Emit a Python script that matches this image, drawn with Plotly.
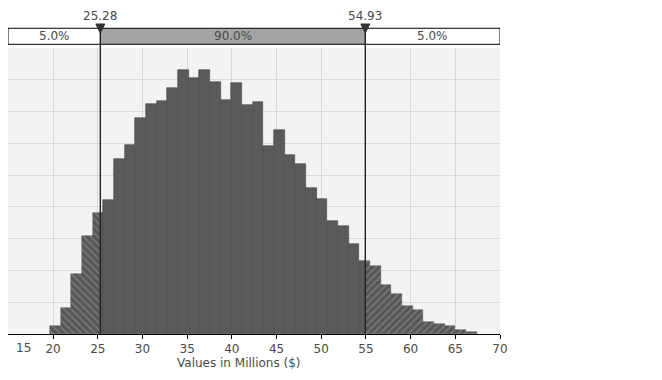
import numpy as np
import plotly.graph_objects as go

# ---- data ----
bin_start = 19.63
bin_width = 1.194
freq = [0.26, 0.82, 1.90, 3.09, 3.80, 4.22, 5.51, 5.95, 6.80, 7.24,
        7.34, 7.75, 8.31, 8.06, 8.31, 7.93, 7.37, 7.90, 7.21, 7.31,
        5.92, 6.42, 5.64, 5.36, 4.60, 4.25, 3.56, 3.41, 2.84, 2.31,
        2.15, 1.55, 1.27, 0.89, 0.76, 0.39, 0.32, 0.26, 0.14, 0.07]
p_low = 25.28
p_high = 54.93
band_labels = ["5.0%", "90.0%", "5.0%"]
x_tick_vals = [20, 25, 30, 35, 40, 45, 50, 55, 60, 65, 70]
first_tick_label = "15"
x_title = "Values in Millions ($)"
x_range = [14.95, 70]
y_range = [0, 9]

FONT = "DejaVu Sans"
TXT = "#4a4a4a"

edges = bin_start + bin_width * np.arange(len(freq) + 1)
left, mid, right = ([], [], []), ([], [], []), ([], [], [])

def add(seg, a, b, h):
    seg[0].append((a + b) / 2)
    seg[1].append(b - a)
    seg[2].append(h)

for i, h in enumerate(freq):
    lo, hi = edges[i], edges[i + 1]
    if lo < p_low:
        add(left, lo, min(hi, p_low), h)
    if hi > p_low and lo < p_high:
        add(mid, max(lo, p_low), min(hi, p_high), h)
    if hi > p_high:
        add(right, max(lo, p_high), hi, h)

fig = go.Figure()
for seg, shape in ((left, "\\"), (right, "/")):
    fig.add_trace(go.Bar(
        x=seg[0], width=seg[1], y=seg[2],
        marker=dict(color="#5a5a5a",
                    line=dict(color="#505050", width=0.5),
                    pattern=dict(shape=shape, fgcolor="#9a9a9a", bgcolor="#555555",
                                 size=5, solidity=0.35)),
        showlegend=False, hoverinfo="skip"))
fig.add_trace(go.Bar(
    x=mid[0], width=mid[1], y=mid[2],
    marker=dict(color="#5a5a5a", line=dict(color="#4a4a4a", width=0.6)),
    showlegend=False, hoverinfo="skip"))

shapes = []
band_y0, band_y1 = 1.013, 1.069
sections = [(x_range[0], p_low, "white"), (p_low, p_high, "#a4a4a4"), (p_high, x_range[1], "white")]
for (a, b, col) in sections:
    shapes.append(dict(type="rect", xref="x", yref="paper", x0=a, x1=b, y0=band_y0, y1=band_y1,
                       fillcolor=col, line=dict(color="black", width=1), layer="above"))
for p in (p_low, p_high):
    shapes.append(dict(type="line", xref="x", yref="paper", x0=p, x1=p, y0=0, y1=band_y0,
                       line=dict(color="#222222", width=1.4), layer="above"))
    # downward triangle marker
    half = 0.5
    shapes.append(dict(type="path", xref="x", yref="paper",
                       path=f"M {p - half},1.084 L {p + half},1.084 L {p},1.052 Z",
                       fillcolor="#333333", line=dict(color="#333333", width=1), layer="above"))

annotations = []
for (a, b, col), lab in zip(sections, band_labels):
    annotations.append(dict(x=(a + b) / 2, y=(band_y0 + band_y1) / 2, xref="x", yref="paper",
                            text=lab, showarrow=False, font=dict(family=FONT, size=12, color=TXT),
                            yanchor="middle"))
for p in (p_low, p_high):
    annotations.append(dict(x=p, y=1.113, xref="x", yref="paper", text=f"{p:.2f}",
                            showarrow=False, font=dict(family=FONT, size=12, color=TXT),
                            yanchor="middle"))
annotations.append(dict(x=15, y=-0.05, xref="x", yref="paper", xshift=15, text=first_tick_label,
                        showarrow=False, font=dict(family=FONT, size=12, color=TXT),
                        yanchor="middle"))
annotations.append(dict(x=0.4685, y=-0.101, xref="paper", yref="paper", text=x_title,
                        showarrow=False, font=dict(family=FONT, size=12, color=TXT),
                        yanchor="middle"))

# page body has an 8px default margin, so the figure is sized to fit the window
fig.update_layout(
    width=654, height=372,
    margin=dict(l=0, r=162, t=40, b=46),
    paper_bgcolor="white", plot_bgcolor="#f3f3f3",
    barmode="overlay", bargap=0,
    shapes=shapes, annotations=annotations,
    font=dict(family=FONT, size=12, color=TXT),
    xaxis=dict(range=x_range, tickvals=x_tick_vals, ticks="outside", ticklen=4,
               tickcolor="black", showline=True, linecolor="black", linewidth=1,
               showgrid=True, gridcolor="#d9d9d9", gridwidth=1, zeroline=False,
               tickfont=dict(family=FONT, size=12, color=TXT)),
    yaxis=dict(range=y_range, dtick=1, showticklabels=False, ticks="",
               showline=True, linecolor="black", linewidth=1.3,
               showgrid=True, gridcolor="#d9d9d9", gridwidth=1, zeroline=False),
)

fig.write_html("out.html")
